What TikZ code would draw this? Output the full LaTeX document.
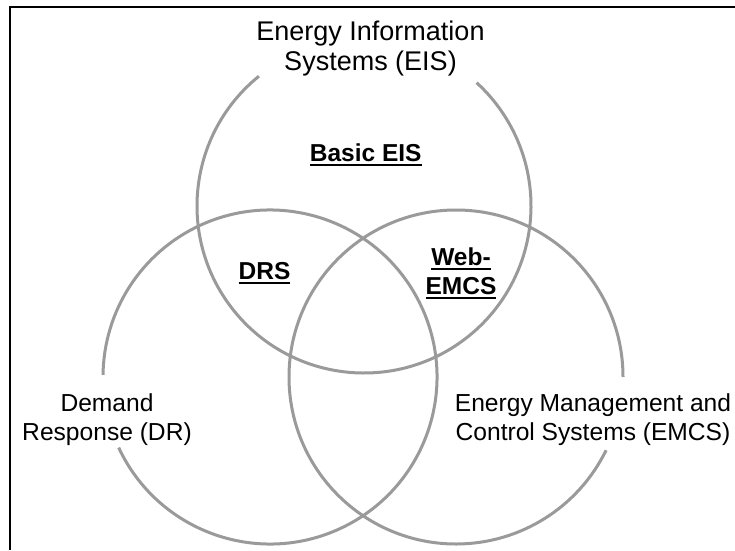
\documentclass[tikz,border=0pt]{standalone}
\usepackage{fontspec}
\setmainfont{Liberation Sans}
\definecolor{ringgray}{HTML}{9A9A9A}
% underlined bold word: rule hangs a little below the baseline
\newcommand{\ulword}[1]{\vtop{\hbox{#1}\kern2.6pt\hrule height 2pt}}
\begin{document}
\begin{tikzpicture}[x=1pt,y=1pt,
  ring/.style={draw=ringgray, line width=3pt},
  setname/.style={align=center, inner sep=0pt, anchor=base,
    font=\fontsize{24.6}{28.5}\selectfont},
  titlename/.style={align=center, inner sep=0pt, anchor=base,
    font=\fontsize{27}{30}\selectfont},
  overlap/.style={align=center, inner sep=0pt, anchor=base,
    font=\fontsize{24.5}{29}\selectfont\bfseries},
]
\useasboundingbox (0,0) rectangle (735,550);
\fill[white] (0,0) rectangle (735,550);
% frame (only its left and top sides fall inside the page)
\draw[line width=2pt] (9.5,0) -- (9.5,543) -- (736,543);

% circle centres
\coordinate (cT) at (364,344);
\coordinate (cL) at (270,173);
\coordinate (cR) at (456,173);

% the three sets, each left open where its caption sits
\draw[ring] (cT) ++(129:167) arc[start angle=129, end angle=407.6, radius=167];
\draw[ring] (cL) ++(205:167) arc[start angle=205, end angle=539.3, radius=167];
\draw[ring] (cR) ++(0:167) arc[start angle=0, end angle=334, radius=167];

% set captions (base anchor sits on the last line)
\node[titlename] (eis) at (370.5,479) {Energy Information\\Systems (EIS)};
\node[setname] (dr) at (107,110) {Demand\\Response (DR)};
\node[setname] (emcs) at (593,110) {Energy Management and\\Control Systems (EMCS)};

% overlap labels
\node[overlap] (basic) at (365.7,389) {\ulword{Basic EIS}};
\node[overlap] (drs) at (264.5,271) {\ulword{DRS}};
\node[overlap] (web) at (461,256) {\ulword{Web-}\\\ulword{EMCS}};
\end{tikzpicture}
\end{document}
